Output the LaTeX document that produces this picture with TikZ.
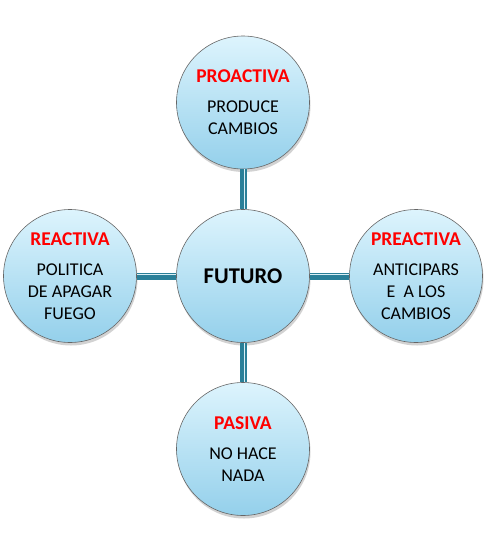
\documentclass[tikz,border=0pt]{standalone}
\usepackage{fontspec}
\setmainfont{Carlito}
\usetikzlibrary{shadows}
\definecolor{conn}{HTML}{2A7F98}
\definecolor{connlight}{HTML}{D8EEF4}
\definecolor{topc}{HTML}{DDF4FD}
\definecolor{botc}{HTML}{94D0EB}
\definecolor{lblred}{HTML}{FF0000}
\tikzset{
  bubble/.style={circle, minimum size=133pt, inner sep=0pt, draw=gray!80!black, line width=0.6pt,
    top color=topc, bottom color=botc, align=center, font=\fontsize{18}{22}\selectfont,
    drop shadow={opacity=0.35, shadow xshift=1pt, shadow yshift=-3pt}},
  connd/.style={draw=conn, line width=7pt},
  connl/.style={draw=connlight, line width=1.3pt},
}
\newcommand{\lbl}[1]{{\color{lblred}\bfseries\fontsize{19.5}{22}\selectfont #1}\\[8pt]}
\begin{document}
\begin{tikzpicture}[x=1pt,y=-1pt]
\path[use as bounding box, fill=white] (0,0) rectangle (496,542);
\node[bubble] (c) at (243,276) {\bfseries\fontsize{22.5}{26}\selectfont FUTURO};
\node[bubble] (t) at (243,102.5) {\lbl{PROACTIVA}PRODUCE\\CAMBIOS};
\node[bubble] (l) at (70,276) {\lbl{REACTIVA}POLITICA\\DE APAGAR\\FUEGO};
\node[bubble] (r) at (416,276) {\lbl{PREACTIVA}ANTICIPARS\\E\ \ A LOS\\CAMBIOS};
\node[bubble] (b) at (243,449) {\lbl{PASIVA}NO HACE\\NADA};
% connectors
\draw[connd] (t.south) -- (c.north);
\draw[connl] ([xshift=1.6pt]t.south) -- ([xshift=1.6pt]c.north);
\draw[connd] (c.south) -- (b.north);
\draw[connl] ([xshift=1.6pt]c.south) -- ([xshift=1.6pt]b.north);
\draw[connd] (l.east) -- (c.west);
\draw[connl] ([yshift=1.6pt]l.east) -- ([yshift=1.6pt]c.west);
\draw[connd] (c.east) -- (r.west);
\draw[connl] ([yshift=1.6pt]c.east) -- ([yshift=1.6pt]r.west);
\end{tikzpicture}
\end{document}
